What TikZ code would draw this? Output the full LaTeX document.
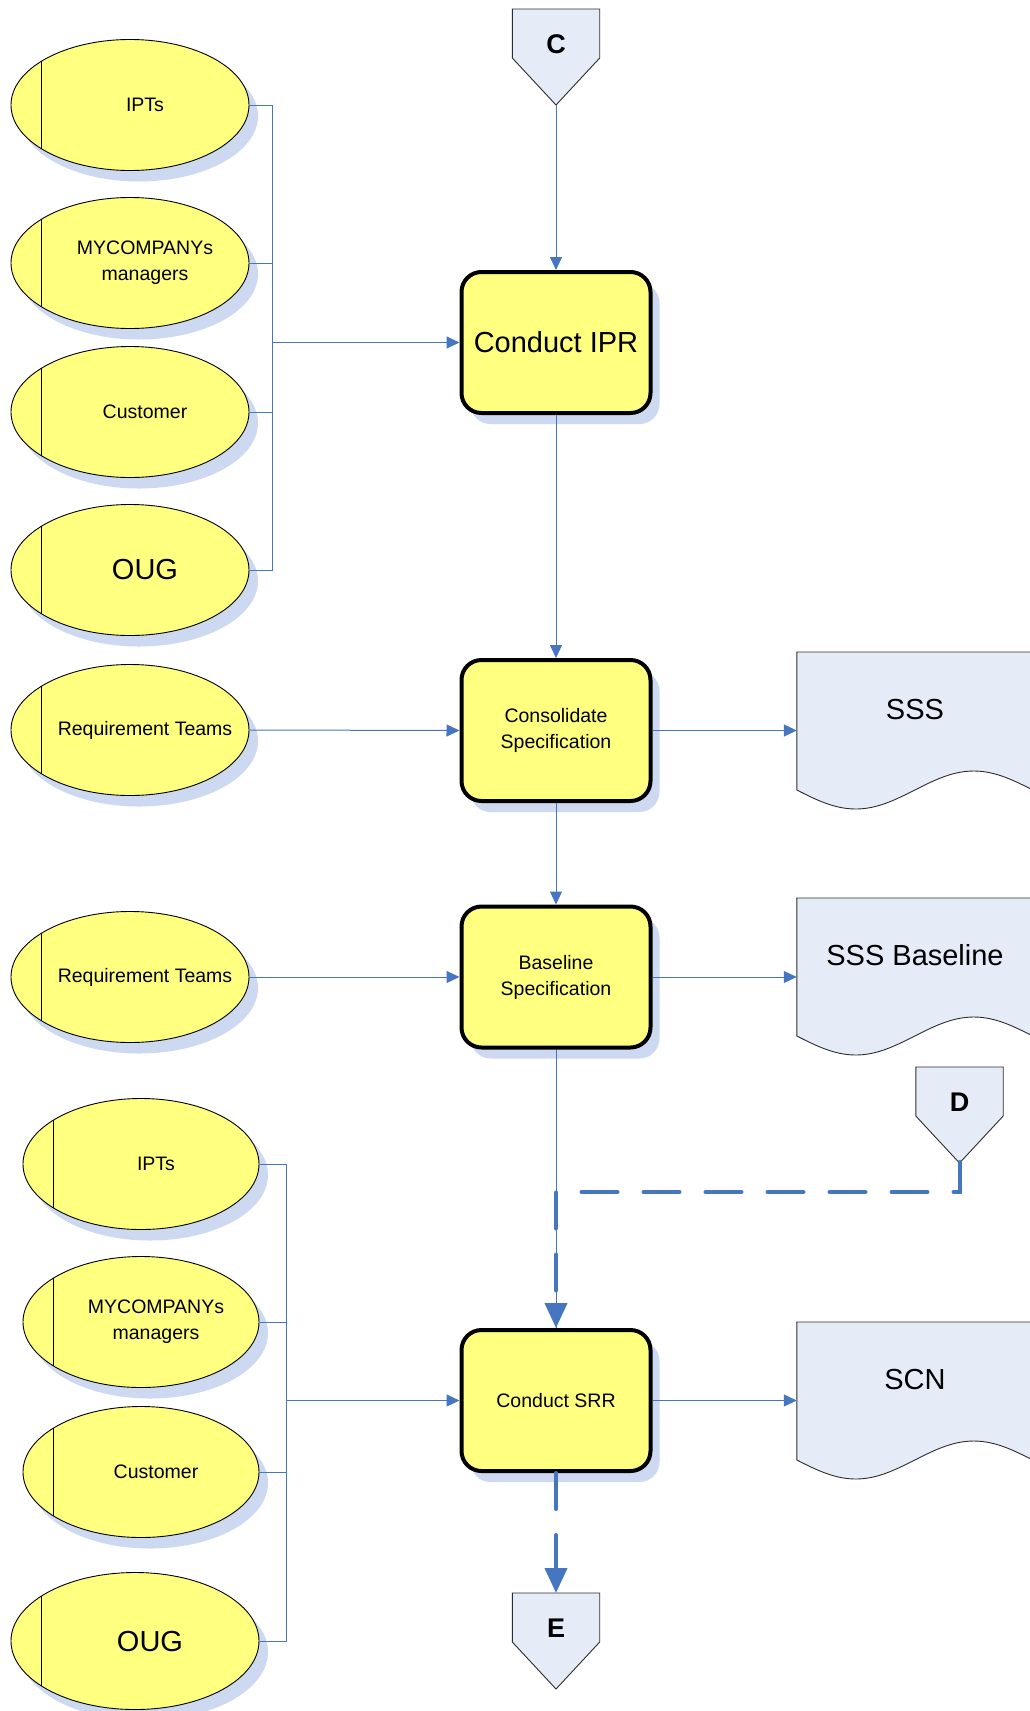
\documentclass[tikz,border=0pt]{standalone}
\usepackage{fontspec}
\setmainfont{Liberation Sans}
\usetikzlibrary{arrows.meta,shapes.geometric,shadows,calc}

\definecolor{procfill}{RGB}{255,255,128}
\definecolor{docfill}{RGB}{230,236,247}
\definecolor{flow}{RGB}{70,118,192}
\definecolor{shade}{RGB}{205,217,240}
\definecolor{outline}{RGB}{45,45,45}

\pgfdeclarelayer{background}
\pgfsetlayers{background,main}

\tikzset{
  small/.style={font=\fontsize{19.5}{26}\selectfont},
  big/.style={font=\fontsize{29}{34}\selectfont},
  softshadow/.style={drop shadow={shadow xshift=9pt,shadow yshift=-11pt,fill=shade,opacity=1}},
  actor/.style={ellipse, draw=black, line width=0.9pt, fill=procfill, inner sep=0pt,
    minimum width=238pt, minimum height=131pt, softshadow,
    path picture={\draw[line width=1pt,black]
      ([xshift=30pt]path picture bounding box.north west) --
      ([xshift=30pt]path picture bounding box.south west);}},
  process/.style={rectangle, rounded corners=20pt, draw=black, line width=4pt, fill=procfill,
    minimum width=189pt, minimum height=141pt, inner sep=0pt, align=center, softshadow},
  docbox/.style={rectangle, minimum width=236pt, minimum height=114pt, anchor=north,
    inner sep=0pt, big},
  offpage/.style={rectangle, minimum width=87pt, minimum height=70pt, anchor=north,
    inner sep=0pt, font=\fontsize{27}{30}\selectfont\bfseries},
  outlinepath/.style={draw=outline, line width=0.9pt, fill=docfill},
  flowline/.style={draw=flow, line width=1pt},
  tip/.style={-{Triangle[length=13pt,width=12pt]}},
  bigflow/.style={draw=flow, line width=4pt, line cap=round, dash pattern=on 36pt off 26pt,
    -{Triangle[length=25pt,width=22pt]}},
  tag/.style={anchor=center, xshift=15pt, align=center, small},
}

\begin{document}
\begin{tikzpicture}[x=1pt,y=-1pt]
\useasboundingbox (0,0) rectangle (1030,1711);

% participants of the IPR
\node[actor, label={[tag]center:IPTs}] (ipt1) at (130,105) {};
\node[actor, label={[tag]center:{MYCOMPANYs\\managers}}] (mgr1) at (130,263) {};
\node[actor, label={[tag]center:Customer}] (cust1) at (130,412) {};
\node[actor, label={[tag,big]center:OUG}] (oug1) at (130,570) {};

% requirement teams
\node[actor, label={[tag]center:Requirement Teams}] (req1) at (130,730) {};
\node[actor, label={[tag]center:Requirement Teams}] (req2) at (130,977) {};

% participants of the SRR
\node[actor, minimum width=236pt, label={[tag]center:IPTs}] (ipt2) at (141,1164) {};
\node[actor, minimum width=236pt, label={[tag]center:{MYCOMPANYs\\managers}}] (mgr2) at (141,1322) {};
\node[actor, minimum width=236pt, label={[tag]center:Customer}] (cust2) at (141,1472) {};
\node[actor, minimum width=248pt, minimum height=137pt, label={[tag,big]center:OUG}] (oug2) at (135,1641) {};

% process steps
\node[process, big] (ipr) at (556,342.5) {Conduct IPR};
\node[process, small] (cons) at (556,730.5) {Consolidate\\Specification};
\node[process, small] (base) at (556,977) {Baseline\\Specification};
\node[process, small] (srr) at (556,1400.5) {Conduct SRR};

% produced documents
\node[docbox] (sss) at (915,652) {SSS};
\node[docbox] (sssb) at (915,898) {SSS Baseline};
\node[docbox] (scn) at (915,1322) {SCN};

% off-page references
\node[offpage] (C) at (556,9) {C};
\node[offpage] (D) at (959.5,1067) {D};
\node[offpage] (E) at (556,1593) {E};
\coordinate (Ctip) at ($(C.north)+(0,96)$);
\coordinate (Dtip) at ($(D.north)+(0,95)$);

% outlines of the reference and document shapes
\begin{pgfonlayer}{background}
  \foreach \p in {C,D,E}
    \path[outlinepath] (\p.north west) -- (\p.north east) -- ($(\p.north east)+(0,49)$)
      -- ($(\p.north)+(0,96)$) -- ($(\p.north west)+(0,49)$) -- cycle;
  \foreach \d in {sss,sssb,scn}
    \path[outlinepath] (\d.north east) -- (\d.north west) -- ($(\d.north west)+(0,138)$)
      sin ++(59,19) cos ++(59,-19) sin ++(59,-19) cos ++(59,19) -- cycle;
\end{pgfonlayer}

% collecting buses
\coordinate (bus1) at (272,342.5);
\coordinate (bus2) at (286,1400.5);

\foreach \a in {ipt1,mgr1,cust1,oug1}
  \draw[flowline] (\a.east) -| (bus1);
\draw[flowline,tip] (bus1) -- (ipr.west);

\foreach \a in {ipt2,mgr2,cust2,oug2}
  \draw[flowline] (\a.east) -| (bus2);
\draw[flowline,tip] (bus2) -- (srr.west);

% main flow
\draw[flowline,tip] (Ctip) -- (ipr.north);
\draw[flowline,tip] (ipr.south) -- (cons.north);
\draw[flowline,tip] (req1.east) -- (cons.west);
\draw[flowline,tip] (cons.east) -- (cons.east -| sss.west);
\draw[flowline,tip] (cons.south) -- (base.north);
\draw[flowline,tip] (req2.east) -- (base.west);
\draw[flowline,tip] (base.east) -- (base.east -| sssb.west);
\draw[flowline] (base.south) -- (srr.north);
\draw[bigflow] (Dtip) -- ++(0,30) -| (srr.north);
\draw[flowline,tip] (srr.east) -- (srr.east -| scn.west);
\draw[bigflow] (srr.south) -- (E.north);
\end{tikzpicture}
\end{document}
